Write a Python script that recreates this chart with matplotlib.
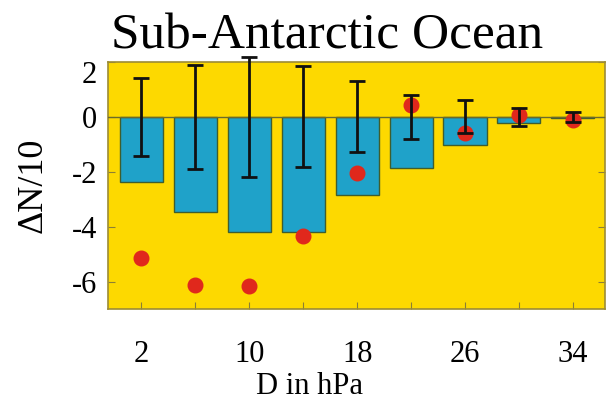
import numpy as np
import matplotlib.pyplot as plt
import matplotlib.transforms as mtransforms

# pressure differences (hPa)
D = [2, 6, 10, 14, 18, 22, 26, 30, 34]
tick_labels = ["2", "", "10", "", "18", "", "26", "", "34"]

# bar heights (Delta N / 10)
bars = [-2.36, -3.48, -4.2, -4.2, -2.84, -1.87, -1.04, -0.23, -0.03]
# error bars around zero
err = [1.42, 1.9, 2.18, 1.84, 1.29, 0.79, 0.6, 0.34, 0.18]
# red dots
dots = [-5.14, -6.12, -6.17, -4.34, -2.04, 0.43, -0.59, 0.07, -0.12]

plt.rcParams["font.family"] = ["Liberation Serif", "DejaVu Serif"]

fig = plt.figure(figsize=(6.07, 4.0), dpi=100)
ax = fig.add_axes([0.178, 0.2275, 0.819, 0.6175])

x = np.arange(len(D))
ax.set_facecolor("#FDD900")

ax.bar(x, bars, width=0.8, color="#1FA2C9", edgecolor="#3F5E2E", linewidth=1.0, zorder=2)
ax.axhline(0, color="#6B6A2A", linewidth=1.0, zorder=3)
ax.plot(x, dots, "o", color="#E0281C", markersize=10.5, zorder=4)
ax.errorbar(
    x,
    np.zeros(len(x)),
    yerr=err,
    fmt="none",
    ecolor="#111111",
    elinewidth=2.0,
    capsize=6,
    capthick=2.0,
    zorder=5,
    clip_on=False,
)

ax.set_xlim(-0.62, 8.6)
ax.set_ylim(-7, 2)
ax.set_xticks(x)
ax.set_xticklabels(tick_labels)
ax.set_yticks([2, 0, -2, -4, -6])
ax.set_yticklabels(["2", "0", "-2", "-4", "-6"])

for s in ax.spines.values():
    s.set_color("#9C8C35")
    s.set_linewidth(1.2)

ax.tick_params(axis="both", direction="in", length=5, color="#8C7E35", labelsize=22)
ax.tick_params(axis="y", right=True, pad=8)
ax.tick_params(axis="x", pad=22)

# top y label sits a bit lower in the original
lbl = ax.get_yticklabels()[0]
lbl.set_transform(lbl.get_transform() + mtransforms.ScaledTranslation(0, -7 / 72, fig.dpi_scale_trans))

ax.set_xlabel("D in hPa", fontsize=22, labelpad=0)
ax.xaxis.set_label_coords(0.406, -0.255)
ax.set_ylabel("ΔN/10", fontsize=26, labelpad=16)
ax.set_title("Sub-Antarctic Ocean", fontsize=37, pad=10, x=0.44)

fig.savefig("out.png", dpi=100)
